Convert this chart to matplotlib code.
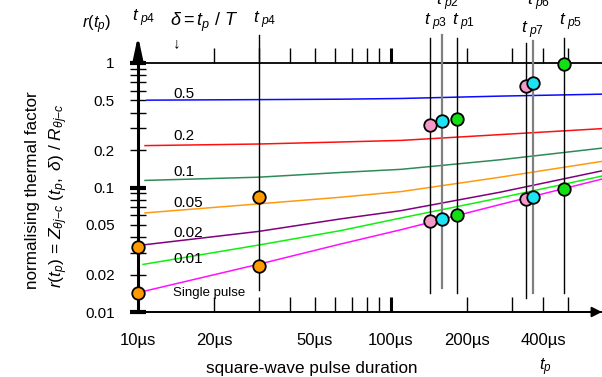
import matplotlib
matplotlib.use('Agg')
import matplotlib.pyplot as plt

plt.rcParams['font.family'] = ['Liberation Sans', 'DejaVu Sans']
plt.rcParams['mathtext.fontset'] = 'custom'
plt.rcParams['mathtext.rm'] = 'Liberation Sans'
plt.rcParams['mathtext.it'] = 'Liberation Sans:italic'
plt.rcParams['mathtext.bf'] = 'Liberation Sans:bold'

# duty-cycle curves r(tp) sampled along tp (µs); first point is where each curve starts
t_grid = [30, 63, 110, 270, 680]
duty_labels = ['0.5', '0.2', '0.1', '0.05', '0.02', '0.01', 'Single pulse']
duty_colors = ['#0a0aff', '#ff1010', '#2e8b57', '#ff9a10', '#800080', '#10f010', '#ff10ff']
t_start = [10.85, 10.66, 10.66, 10.66, 10.37, 10.46, 10.0]
r_start = [0.503, 0.217, 0.114, 0.0625, 0.0345, 0.0241, 0.0143]
r_curves = [
    [0.508, 0.512, 0.519, 0.542, 0.562],
    [0.2235, 0.232, 0.239, 0.266, 0.297],
    [0.121, 0.132, 0.140, 0.167, 0.207],
    [0.0739, 0.0835, 0.0928, 0.121, 0.162],
    [0.0444, 0.0559, 0.0653, 0.0917, 0.136],
    [0.0345, 0.045, 0.057, 0.0826, 0.1234],
    [0.0242, 0.0351, 0.0459, 0.073, 0.1167],
]
label_r = [0.562, 0.258, 0.132, 0.0755, 0.0434, 0.0268, 0.0142]

# marked pulse durations with the two read-off points on each
tp_names = ['p4', 'p3', 'p2', 'p1', 'p7', 'p6', 'p5']
tp_values = [30, 142, 159, 183, 343, 364, 483]
tp_upper = [0.0834, 0.320, 0.343, 0.358, 0.652, 0.686, 0.98]
tp_lower = [0.0236, 0.0542, 0.0558, 0.0604, 0.0812, 0.0845, 0.0976]
tp_colors = ['#ff9a00', '#f59ac8', '#1de4f2', '#12e012', '#f59ac8', '#1de4f2', '#12e012']
tp_gray = [False, False, True, False, False, True, False]
line_top = [1.68, 1.59, 1.68, 1.59, 1.45, 1.50, 1.59]
line_bottom = [0.0151, 0.0142, 0.0156, 0.0142, 0.0130, 0.0143, 0.0142]
tag_r = [2.22, 2.14, 3.1, 2.14, 1.85, 3.1, 2.14]

# points on the axis itself at tp = 10 µs
axis_tp = 10
axis_r = [0.0334, 0.0141]

x_major = [10, 20, 50, 100, 200, 400]
x_major_labels = ['10µs', '20µs', '50µs', '100µs', '200µs', '400µs']
x_minor = [30, 40, 60, 70, 80, 90, 300, 500]
y_major = [0.01, 0.02, 0.05, 0.1, 0.2, 0.5, 1]
y_major_labels = ['0.01', '0.02', '0.05', '0.1', '0.2', '0.5', '1']
y_minor = [0.03, 0.04, 0.06, 0.07, 0.08, 0.09, 0.3, 0.4, 0.6, 0.7, 0.8, 0.9]

W, H = 602, 377
fig = plt.figure(figsize=(W / 100, H / 100), dpi=100)
ax = fig.add_axes([138 / W, (H - 312) / H, (W - 138) / W, (312 - 63) / H])
ax.patch.set_visible(False)
ax.set_xscale('log')
ax.set_yscale('log')
ax.set_xlim(10, 682)
ax.set_ylim(0.01, 1)

for s in ['right', 'top']:
    ax.spines[s].set_visible(False)
ax.spines['left'].set_linewidth(2.2)
ax.spines['bottom'].set_linewidth(1.4)

ax.set_yticks(y_major, labels=y_major_labels)
ax.set_yticks(y_minor, minor=True)
ax.set_xticks(x_major, labels=x_major_labels)
ax.set_xticks(x_minor, minor=True)
ax.yaxis.set_minor_formatter(plt.NullFormatter())
ax.xaxis.set_minor_formatter(plt.NullFormatter())
ax.tick_params(axis='y', which='both', direction='inout', length=11.5, width=1.0,
               pad=11, labelsize=11)
ax.tick_params(axis='x', which='both', direction='in', length=10.8, width=1.0,
               pad=15, labelsize=12)
for tk in ax.yaxis.get_major_ticks():
    if tk.get_loc() in (0.01, 0.1, 1):
        tk.tick1line.set_markeredgewidth(3.0)
for tk in ax.xaxis.get_major_ticks():
    if tk.get_loc() == 100:
        tk.tick1line.set_markeredgewidth(2.2)

# upper reference line at r = 1 with outward ticks
top = ax.secondary_xaxis('top')
top.spines['top'].set_linewidth(1.3)
top.set_xticks(x_major, labels=[''] * len(x_major))
top.set_xticks(x_minor, minor=True)
top.xaxis.set_minor_formatter(plt.NullFormatter())
top.tick_params(which='both', direction='out', length=10.8, width=1.0)
for tk in top.xaxis.get_major_ticks():
    if tk.get_loc() == 100:
        tk.tick2line.set_markeredgewidth(2.2)

# axis arrows
ax.annotate('', xy=(10, 1.65), xytext=(10, 0.99), annotation_clip=False,
            arrowprops=dict(arrowstyle='-|>,head_length=1.4,head_width=0.3',
                            lw=2.2, color='black', shrinkA=0, shrinkB=0))
ax.annotate('', xy=(682, 0.01), xytext=(400, 0.01), annotation_clip=False,
            arrowprops=dict(arrowstyle='-|>,head_length=0.6,head_width=0.3',
                            lw=1.4, color='black', shrinkA=0, shrinkB=0))

# duty-cycle curves and their labels
for i in range(len(duty_labels)):
    ax.plot([t_start[i]] + t_grid, [r_start[i]] + r_curves[i],
            color=duty_colors[i], lw=1.1, zorder=2)
    ax.text(13.75, label_r[i], duty_labels[i], va='center', ha='left',
            fontsize=9.5 if i == len(duty_labels) - 1 else 11)

# vertical markers for each pulse duration
for i in range(len(tp_values)):
    ax.plot([tp_values[i], tp_values[i]], [line_bottom[i], line_top[i]],
            color='#808080' if tp_gray[i] else 'black',
            lw=1.6 if tp_gray[i] else 1.0, clip_on=False, zorder=3)
    ax.annotate(r'$t_{\ ' + tp_names[i] + '}$', (tp_values[i], tag_r[i]),
                xytext=(-4, 0), textcoords='offset points', ha='left',
                va='center', fontsize=12.5, annotation_clip=False)
    for r in (tp_upper[i], tp_lower[i]):
        ax.plot(tp_values[i], r, 'o', ms=9, mfc=tp_colors[i], mec='black',
                mew=1.3, clip_on=False, zorder=5)

ax.annotate(r'$t_{\ p4}$', (axis_tp, 2.3), xytext=(-4, 0), textcoords='offset points',
            ha='left', va='center', fontsize=12.5, annotation_clip=False)
for r in axis_r:
    ax.plot(axis_tp, r, 'o', ms=9, mfc='#ff9a00', mec='black', mew=1.3,
            clip_on=False, zorder=5)

# headings and axis titles
fig.text(97 / W, 1 - 25 / H, r'$r(t_p)$', ha='center', va='center', fontsize=12)
fig.text(204 / W, 1 - 22 / H, r'$\delta = t_p\ /\ T$', ha='center', va='center',
         fontsize=13)
fig.text(177 / W, 1 - 43 / H, '↓', ha='center', va='center', fontsize=11)
fig.text(33 / W, 1 - 190 / H, 'normalising thermal factor', rotation=90,
         ha='center', va='center', fontsize=12.3)
fig.text(59 / W, 1 - 196 / H,
         r'$r(t_p)$ = $Z_{\theta j\mathrm{-}c}\ (t_p,\ \delta)\ /\ R_{\theta j\mathrm{-}c}$',
         rotation=90, ha='center', va='center', fontsize=12.5)
fig.text(312 / W, 1 - 369 / H, 'square-wave pulse duration', ha='center',
         va='center', fontsize=12.3)
fig.text(545 / W, 1 - 367 / H, r'$t_p$', ha='center', va='center', fontsize=12)

fig.savefig('out.png', dpi=100)
